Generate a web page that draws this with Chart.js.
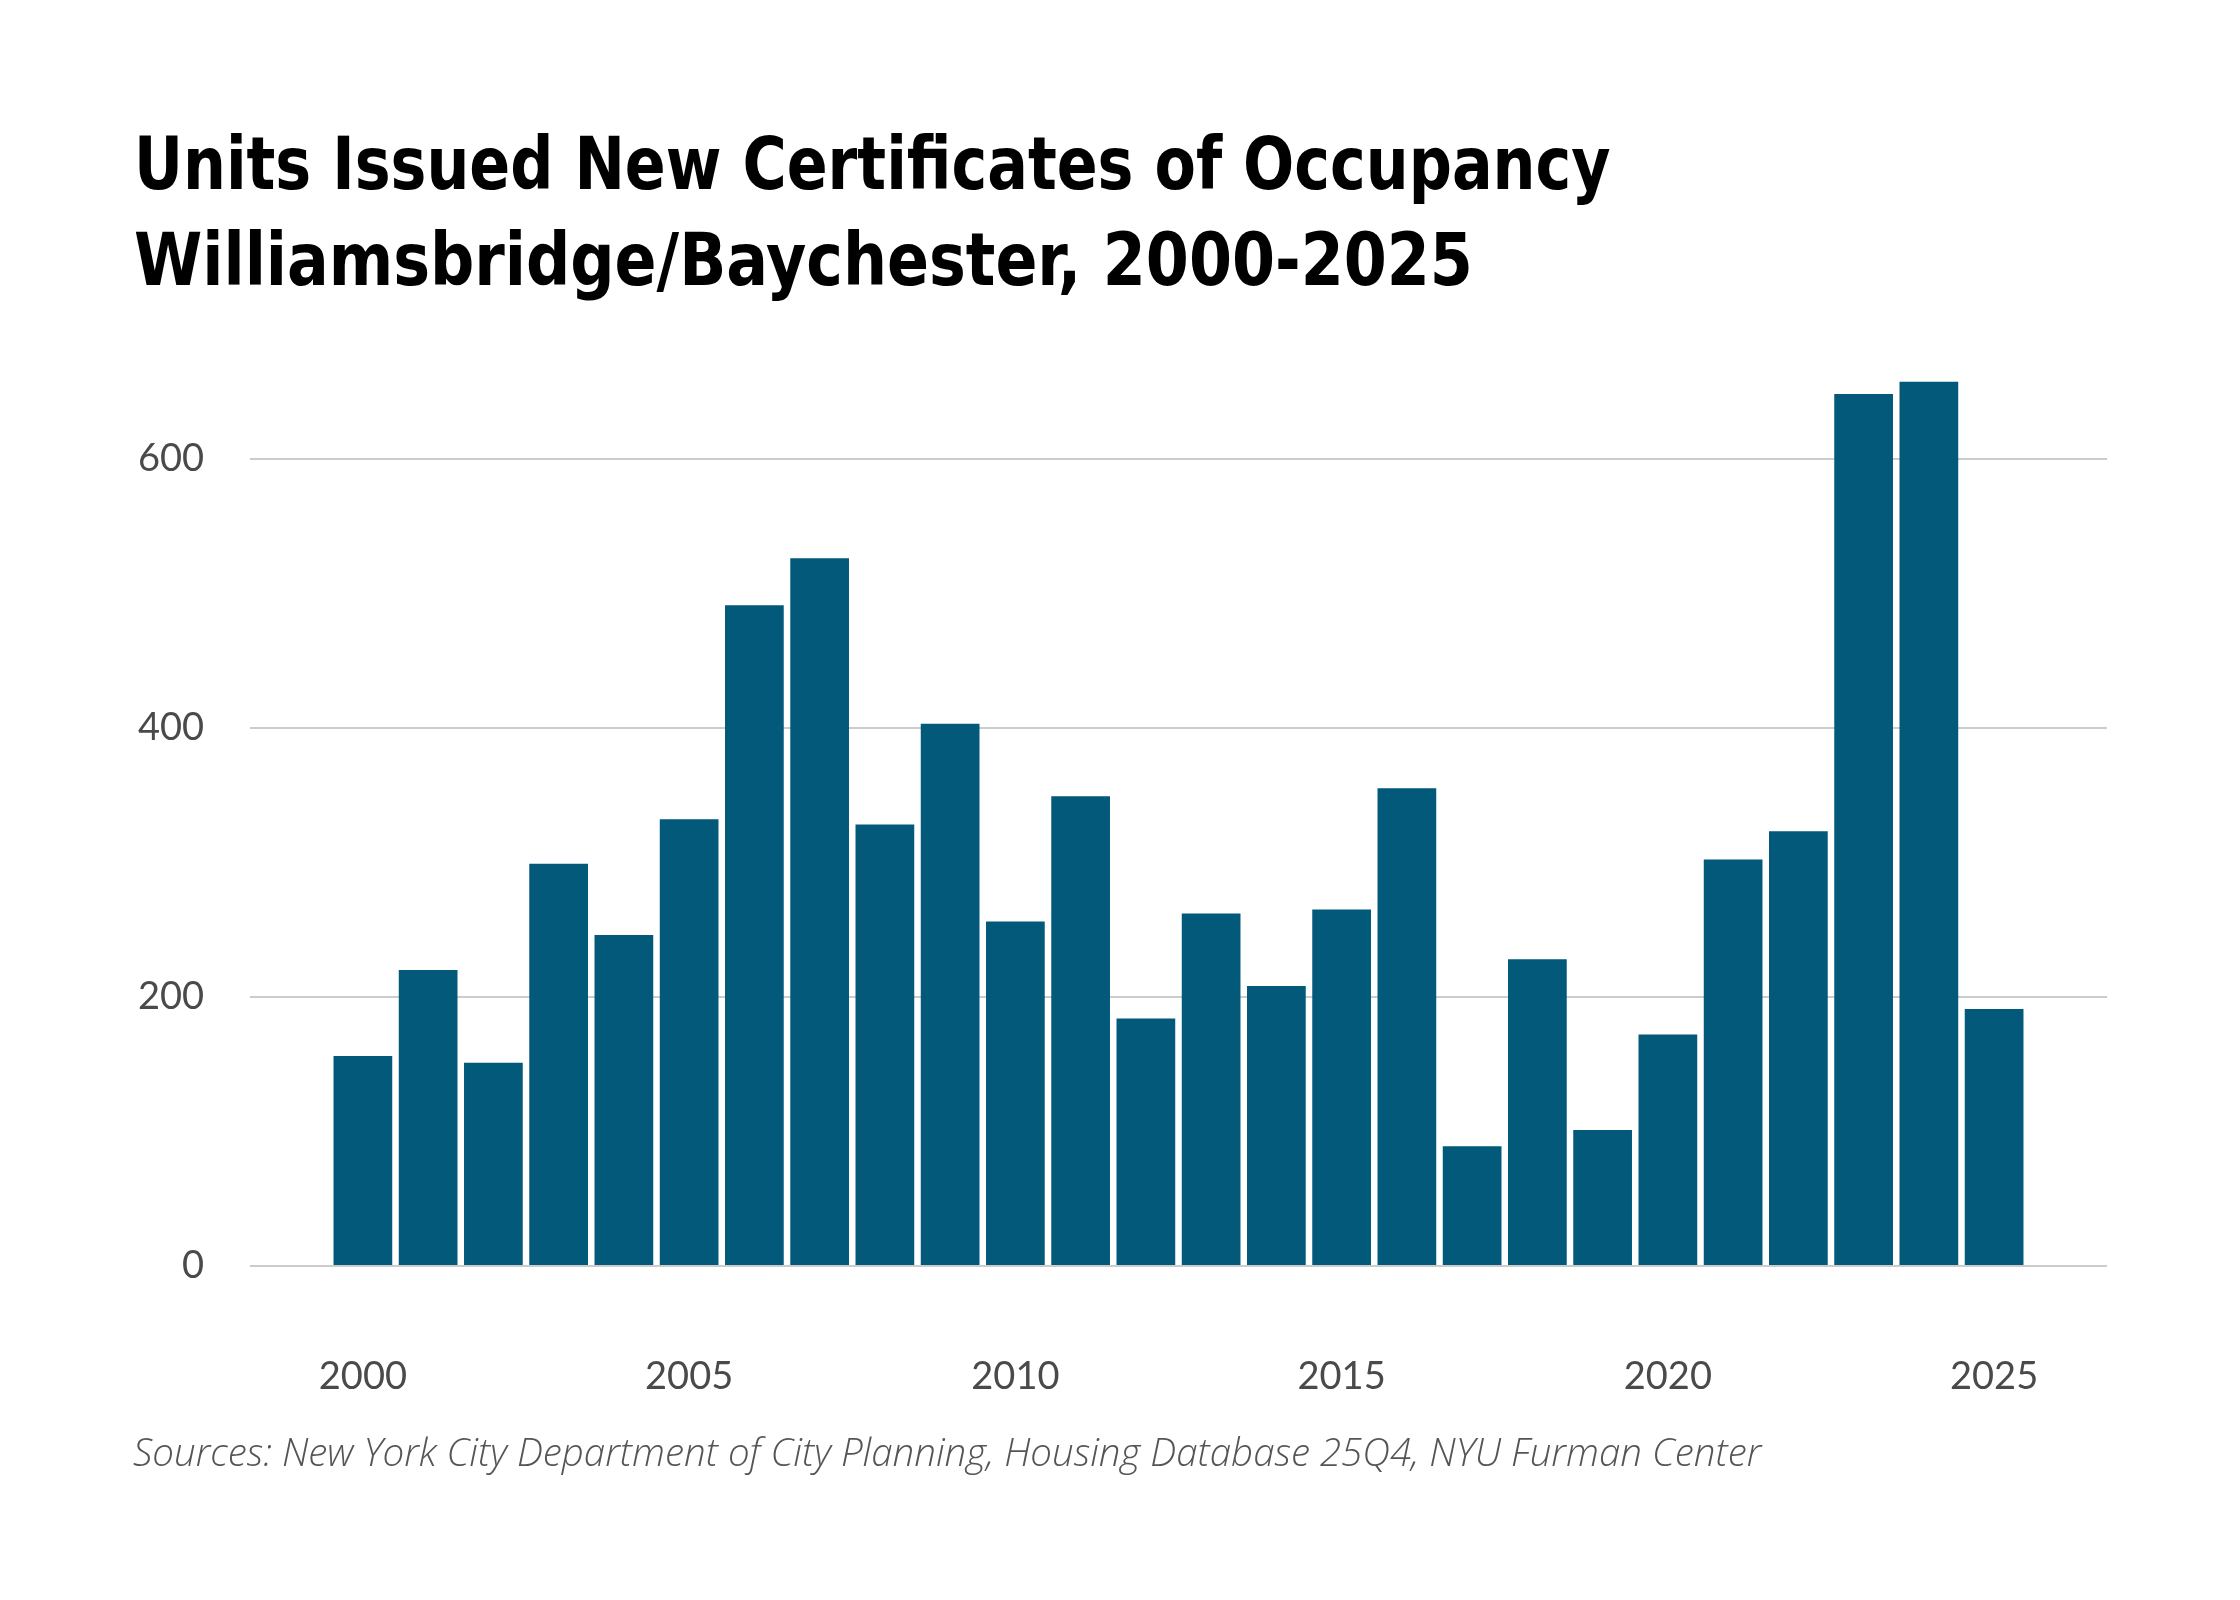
<!DOCTYPE html>
<html>
<head>
<meta charset="utf-8">
<script src="https://cdn.jsdelivr.net/npm/chart.js@4"></script>
<style>
  body { margin: 0; background: #ffffff; }
  #wrap { position: relative; width: 2240px; height: 1600px; background: #ffffff; }
  #myChart { position: absolute; left: 0; top: 0; }
  .title {
    position: absolute; left: 134px; margin: 0;
    font-family: "DejaVu Sans", sans-serif; font-stretch: condensed;
    font-weight: bold; font-size: 73px; color: #000; white-space: nowrap;
    transform-origin: left center;
  }
  #t1 { top: 121px; transform: scaleX(0.918); }
  #t2 { top: 217px; transform: scaleX(0.942); }
  #source {
    position: absolute; left: 133px; top: 1425px; margin: 0;
    font-family: "Open Sans", sans-serif; font-style: italic; font-weight: 300;
    font-size: 38.5px; color: #555555; white-space: nowrap;
  }
</style>
</head>
<body>
<div id="wrap">
  <canvas id="myChart" width="2240" height="1600"></canvas>
  <div class="title" id="t1">Units Issued New Certificates of Occupancy</div>
  <div class="title" id="t2">Williamsbridge/Baychester, 2000-2025</div>
  <div id="source">Sources: New York City Department of City Planning, Housing Database 25Q4, NYU Furman Center</div>
</div>
<script>
const years = [2000, 2001, 2002, 2003, 2004, 2005, 2006, 2007, 2008, 2009,
               2010, 2011, 2012, 2013, 2014, 2015, 2016, 2017, 2018, 2019,
               2020, 2021, 2022, 2023, 2024, 2025];
const units = [156, 220, 151, 299, 246, 332, 491, 526, 328, 403,
               256, 349, 184, 262, 208, 265, 355, 89, 228, 101,
               172, 302, 323, 648, 657, 191];
const yearTicks = [2000, 2005, 2010, 2015, 2020, 2025];
const unitTicks = [0, 200, 400, 600];

const barColor = '#02597a';
const tickFont = { family: 'Lato, "Open Sans", sans-serif', size: 38 };

const renderChart = () => {
    const ctx = document.getElementById('myChart').getContext('2d');
    new Chart(ctx, {
        type: 'bar',
        data: {
            datasets: [{
                label: 'Units',
                data: years.map((y, i) => ({ x: y, y: units[i] })),
                backgroundColor: barColor,
                borderWidth: 0,
                barPercentage: 0.9,
                categoryPercentage: 1.0
            }]
        },
        options: {
            responsive: false,
            animation: false,
            devicePixelRatio: 1,
            layout: { padding: { left: 133, right: 133, top: 324, bottom: 0 } },
            plugins: {
                legend: { display: false },
                tooltip: { enabled: false }
            },
            scales: {
                x: {
                    type: 'linear',
                    offset: false,
                    min: 1998.27,
                    max: 2026.73,
                    grid: { display: false, drawTicks: false, offset: false },
                    border: { display: false },
                    afterBuildTicks: (s) => { s.ticks = yearTicks.map(v => ({ value: v })); },
                    afterFit: (s) => { s.height = 334; },
                    ticks: {
                        padding: 88,
                        color: '#4a4a4a',
                        font: tickFont,
                        callback: (v) => String(v)
                    }
                },
                y: {
                    min: 0,
                    max: 700,
                    grid: { color: '#cccccc', lineWidth: 2, drawTicks: false },
                    border: { display: false },
                    afterBuildTicks: (s) => { s.ticks = unitTicks.map(v => ({ value: v })); },
                    afterFit: (s) => { s.width = 117; },
                    ticks: {
                        padding: 46,
                        color: '#4a4a4a',
                        font: tickFont,
                        callback: (v) => String(v)
                    }
                }
            }
        }
    });
};

renderChart();
</script>
</body>
</html>
